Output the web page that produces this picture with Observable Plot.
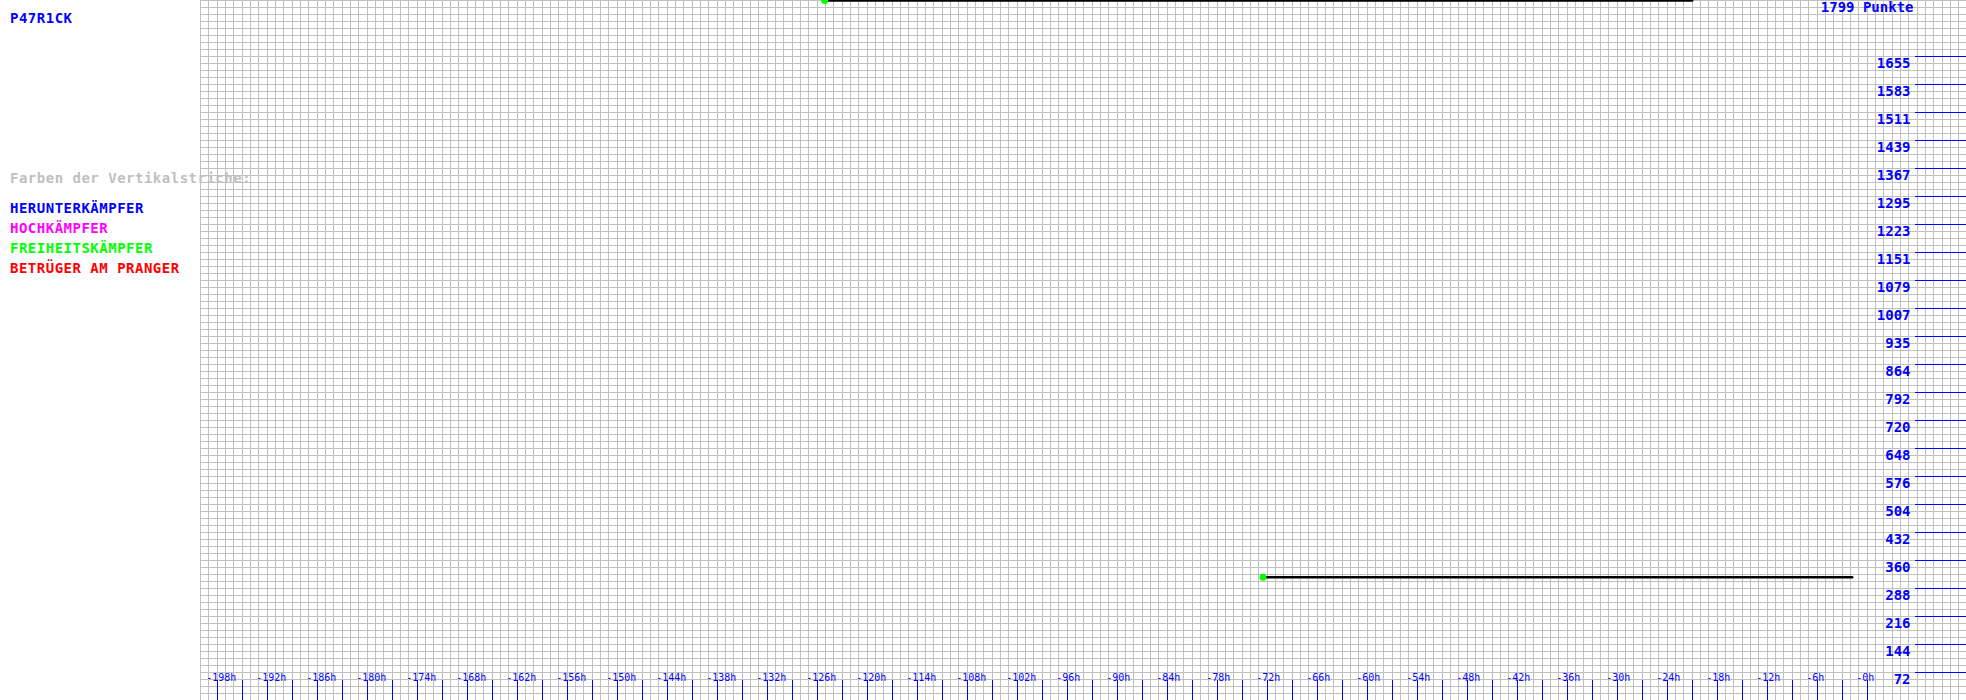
<!DOCTYPE html>
<html><head><meta charset="utf-8">
<script src="https://cdn.jsdelivr.net/npm/d3@7"></script>
<script src="https://cdn.jsdelivr.net/npm/@observablehq/plot@0.6"></script>
<style>
html,body{margin:0;padding:0;background:#fff;width:1966px;height:700px;overflow:hidden;}
#wrap{position:relative;width:1966px;height:700px;}
#wrap svg{position:absolute;left:0;top:0;}
.lbl{position:absolute;left:10px;font-family:"DejaVu Sans Mono",monospace;font-size:14px;letter-spacing:0.5px;white-space:nowrap;line-height:16px;z-index:2;font-weight:bold;}
</style></head><body><div id="wrap"></div>
<script>
// ---- data ----
const playerName = "P47R1CK";
const maxPoints = 1799;
const legendTitle = "Farben der Vertikalstriche:";
const legendLabels = ["HERUNTERKÄMPFER", "HOCHKÄMPFER", "FREIHEITSKÄMPFER", "BETRÜGER AM PRANGER"];
const legendColors = ["#0000ff", "#ff00ff", "#00ff00", "#ff0000"];

// point history (hours relative to now)
const segHours  = [-125.1, -21, -72.5, -1.8];
const segPoints = [1799, 1799, 317, 317];
const segId     = ["a", "a", "b", "b"];

const yTickValues = [72, 144, 216, 288, 360, 432, 504, 576, 648, 720, 792, 864, 935, 1007, 1079, 1151, 1223, 1295, 1367, 1439, 1511, 1583, 1655];
const xLabelHours = [-198, -192, -186, -180, -174, -168, -162, -156, -150, -144, -138, -132, -126, -120, -114, -108, -102, -96, -90, -84, -78, -72, -66, -60, -54, -48, -42, -36, -30, -24, -18, -12, -6, -0];
const xLabels = ["-198h","-192h","-186h","-180h","-174h","-168h","-162h","-156h","-150h","-144h","-138h","-132h","-126h","-120h","-114h","-108h","-102h","-96h","-90h","-84h","-78h","-72h","-66h","-60h","-54h","-48h","-42h","-36h","-30h","-24h","-18h","-12h","-6h","-0h"];
const xTickHours = d3.range(-198, 1, 3);

// ---- build ----
const history = segHours.map((h, i) => ({h, p: segPoints[i], seg: segId[i]}));
const starts = history.filter((d, i) => i === 0 || history[i - 1].seg !== d.seg);

const font = "DejaVu Sans Mono, monospace";
const blue = "#0000ff";
const xDom = [-200, 11.92];

const chart = Plot.plot({
  width: 1966, height: 700,
  marginLeft: 200, marginRight: 0, marginTop: 0, marginBottom: 0,
  x: {domain: xDom, axis: null},
  y: {domain: [0, maxPoints], axis: null},
  style: {background: "white", overflow: "hidden"},
  marks: [
    Plot.ruleX(d3.range(-200, 12), {stroke: "#c0c0c0", strokeWidth: 1, shapeRendering: "crispEdges"}),
    Plot.ruleY(d3.range(0, 101).map(k => k * maxPoints / 100), {stroke: "#c0c0c0", strokeWidth: 1, shapeRendering: "crispEdges"}),
    Plot.ruleY(yTickValues, {x1: 5.8, x2: xDom[1], stroke: blue, strokeWidth: 1, shapeRendering: "crispEdges"}),
    Plot.ruleX(xTickHours, {y1: 0, y2: maxPoints * 20 / 700, stroke: blue, strokeWidth: 1, shapeRendering: "crispEdges"}),
    Plot.line(history, {x: "h", y: "p", z: "seg", stroke: "black", strokeWidth: 2.5}),
    Plot.dot(starts, {x: "h", y: "p", r: 3.5, fill: "#00ff00", stroke: null}),
    Plot.text(yTickValues, {y: d => d, text: d => String(d), frameAnchor: "right", dx: -56, dy: 7,
      textAnchor: "end", lineAnchor: "middle", fill: blue, fontFamily: font, fontSize: 14, fontWeight: "bold"}),
    Plot.text(xLabelHours, {x: d => d, text: (d, i) => xLabels[i], frameAnchor: "bottom", dx: -11, dy: -23,
      textAnchor: "start", lineAnchor: "middle", fill: blue, fontFamily: font, fontSize: 10}),
    Plot.text([maxPoints], {text: d => `${d} Punkte`, frameAnchor: "top-right", dx: -53, dy: 7,
      textAnchor: "end", lineAnchor: "middle", fill: blue, fontFamily: font, fontSize: 14, fontWeight: "bold"})
  ]
});

const wrap = document.getElementById("wrap");
wrap.appendChild(chart);

function addLabel(text, color, centerY) {
  const d = document.createElement("div");
  d.className = "lbl";
  d.textContent = text;
  d.style.color = color;
  d.style.top = (centerY - 8) + "px";
  wrap.appendChild(d);
}
addLabel(playerName, blue, 18);
addLabel(legendTitle, "#c0c0c0", 178);
legendLabels.forEach((t, i) => addLabel(t, legendColors[i], 208 + i * 20));
</script>
</body></html>
